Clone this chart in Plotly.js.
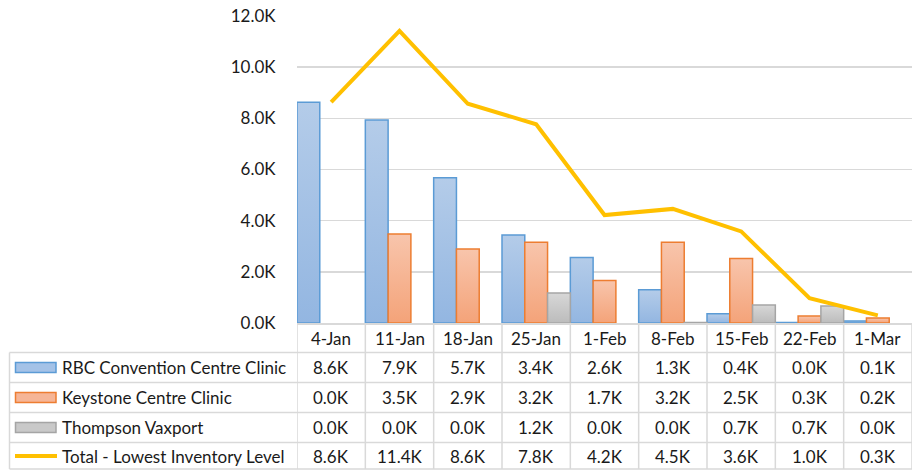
<!DOCTYPE html>
<html>
<head>
<meta charset="utf-8">
<script src="https://cdn.plot.ly/plotly-3.0.1.min.js"></script>
<style>
  html, body { margin: 0; padding: 0; background: #fff; }
  #chart { width: 922px; height: 470px; }
</style>
</head>
<body>
<div id="chart"></div>
<script>
// ---- Data (values in thousands) ----
const categories = ['4-Jan', '11-Jan', '18-Jan', '25-Jan', '1-Feb', '8-Feb', '15-Feb', '22-Feb', '1-Mar'];
const seriesNames = ['RBC Convention Centre Clinic', 'Keystone Centre Clinic', 'Thompson Vaxport', 'Total - Lowest Inventory Level'];
const rbcClinic = [8.63, 7.93, 5.68, 3.44, 2.56, 1.30, 0.36, 0.02, 0.08];
const keystoneClinic = [0.00, 3.48, 2.89, 3.16, 1.66, 3.16, 2.52, 0.27, 0.20];
const thompsonVaxport = [0.00, 0.00, 0.00, 1.17, 0.00, 0.02, 0.70, 0.66, 0.00];
const totalLowest = [8.63, 11.42, 8.57, 7.77, 4.22, 4.46, 3.58, 0.97, 0.30];
const yTickVals = [0, 2, 4, 6, 8, 10, 12];
const yTickText = ['0.0K', '2.0K', '4.0K', '6.0K', '8.0K', '10.0K', '12.0K'];

// ---- Styling ----
const FONT = 'Lato, "Liberation Sans", sans-serif';
const TXT = '#1a1a1a';
const GRID = '#d9d9d9';
const fills = ['#a4c2e7', '#f6b596', '#c9c9c9'];
const gradTop = ['#b4cce9', '#f8c5ac', '#d7d7d7'];
const gradBot = ['#93b6e1', '#f4a379', '#bcbcbc'];
const outlines = ['#5b9bd5', '#ed7d31', '#a5a5a5'];
const lineColor = '#ffc000';

// Layout geometry in pixels
const W = 922, H = 470;
const M = { l: 297, r: 10, t: 16, b: 147 };
const plotW = W - M.l - M.r, plotH = H - M.t - M.b;
const axisY = H - M.b;
const py = p => (axisY - p) / plotH;
const px = p => (p - M.l) / plotW;

const barSeries = [rbcClinic, keystoneClinic, thompsonVaxport];
const traces = barSeries.map((vals, k) => ({
  type: 'bar', name: seriesNames[k], x: categories, y: vals,
  marker: { color: fills[k], line: { color: outlines[k], width: vals.map(v => v === 0 ? 0 : 1.5) } },
  hoverinfo: 'skip'
}));
traces.push({
  type: 'scatter', mode: 'lines', name: seriesNames[3], x: categories, y: totalLowest,
  line: { color: lineColor, width: 4 }, hoverinfo: 'skip'
});

const rowLines = [352.5, 382.5, 412.5, 442.5, 469];
const headerCenter = 338;
const rowCenters = [367.5, 397.5, 427.5, 456];
const tableLeft = 9.5, labelX = 60;

const shapes = [];
const lineStyle = { color: GRID, width: 1.5 };
rowLines.forEach(r => shapes.push({ type: 'line', xref: 'paper', yref: 'paper',
  x0: px(tableLeft), x1: 1, y0: py(r), y1: py(r), line: lineStyle }));
shapes.push({ type: 'line', xref: 'paper', yref: 'paper', x0: px(tableLeft), x1: px(tableLeft),
  y0: py(rowLines[0]), y1: py(rowLines[rowLines.length - 1]), line: lineStyle });
for (let i = 0; i <= categories.length; i++) {
  shapes.push({ type: 'line', xref: 'x', yref: 'paper', x0: i - 0.5, x1: i - 0.5,
    y0: 0, y1: py(rowLines[rowLines.length - 1]), line: lineStyle });
}
for (let k = 0; k < 3; k++) {
  const c = rowCenters[k];
  shapes.push({ type: 'rect', xref: 'paper', yref: 'paper',
    x0: px(15.5), x1: px(56), y0: py(c + 5), y1: py(c - 5),
    fillcolor: fills[k], line: { color: outlines[k], width: 1.5 } });
}
shapes.push({ type: 'line', xref: 'paper', yref: 'paper', x0: px(15), x1: px(57),
  y0: py(rowCenters[3]), y1: py(rowCenters[3]), line: { color: lineColor, width: 4 } });

const annotations = [];
const fmt = v => v.toFixed(1) + 'K';
const tFont = { family: FONT, size: 17, color: TXT };
categories.forEach(c => {
  annotations.push({ x: c, xref: 'x', y: py(headerCenter), yref: 'paper', text: c,
    showarrow: false, xanchor: 'center', yanchor: 'middle', font: tFont });
});
const allSeries = [rbcClinic, keystoneClinic, thompsonVaxport, totalLowest];
allSeries.forEach((vals, k) => {
  annotations.push({ x: px(labelX), xref: 'paper', y: py(rowCenters[k]), yref: 'paper', text: seriesNames[k],
    showarrow: false, xanchor: 'left', yanchor: 'middle', font: tFont });
  vals.forEach((v, i) => {
    annotations.push({ x: categories[i], xref: 'x', y: py(rowCenters[k]), yref: 'paper', text: fmt(v),
      showarrow: false, xanchor: 'center', yanchor: 'middle', font: tFont });
  });
});

const layout = {
  width: W, height: H,
  margin: M,
  paper_bgcolor: '#fff', plot_bgcolor: '#fff',
  showlegend: false,
  barmode: 'group', bargap: 0, bargroupgap: 0,
  xaxis: {
    type: 'category', range: [-0.5, categories.length - 0.5],
    showticklabels: false, ticks: '', showgrid: false, zeroline: false,
    showline: true, linecolor: GRID, linewidth: 1.5, fixedrange: true
  },
  yaxis: {
    range: [0, 12], tickmode: 'array', tickvals: yTickVals, ticktext: yTickText,
    showgrid: true, gridcolor: GRID, gridwidth: 1.5, zeroline: false, showline: false,
    ticks: 'outside', ticklen: 17, tickcolor: 'rgba(0,0,0,0)',
    tickfont: tFont, fixedrange: true
  },
  shapes: shapes,
  annotations: annotations
};

Plotly.newPlot('chart', traces, layout, { displayModeBar: false, staticPlot: true }).then(gd => {
  // Vertical gradient fills like the original Office style
  const svg = gd.querySelector('svg.main-svg');
  const NS = 'http://www.w3.org/2000/svg';
  let defs = svg.querySelector('defs');
  if (!defs) { defs = document.createElementNS(NS, 'defs'); svg.insertBefore(defs, svg.firstChild); }
  for (let k = 0; k < 3; k++) {
    const g = document.createElementNS(NS, 'linearGradient');
    g.setAttribute('id', 'barGrad' + k);
    g.setAttribute('x1', '0'); g.setAttribute('y1', '0'); g.setAttribute('x2', '0'); g.setAttribute('y2', '1');
    [[0, gradTop[k]], [1, gradBot[k]]].forEach(([o, c]) => {
      const s = document.createElementNS(NS, 'stop');
      s.setAttribute('offset', o); s.setAttribute('stop-color', c);
      g.appendChild(s);
    });
    defs.appendChild(g);
  }
  gd.querySelectorAll('.barlayer .trace').forEach((tr, k) => {
    tr.querySelectorAll('path').forEach(p => { p.style.fill = 'url(#barGrad' + k + ')'; });
  });
});
</script>
</body>
</html>
